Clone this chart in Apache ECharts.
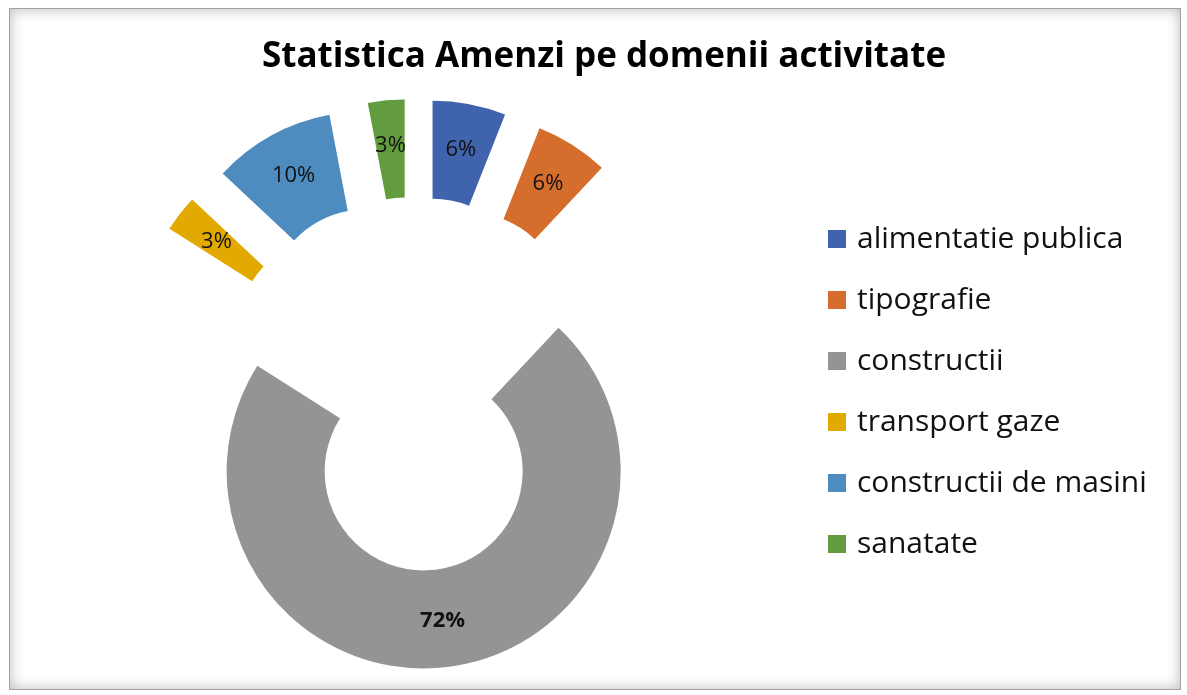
<!DOCTYPE html>
<html>
<head>
<meta charset="utf-8">
<script src="https://cdn.jsdelivr.net/npm/echarts@6/dist/echarts.min.js"></script>
<style>
  body { margin: 0; background: #fff; }
  #frame {
    position: absolute; left: 9px; top: 8px; width: 1170px; height: 680px;
    border: 1px solid #a3a3a3;
    box-shadow: inset 0 0 14px rgba(0,0,0,0.28);
    background: #fff;
  }
  #chart { position: absolute; left: 0; top: 0; width: 1187px; height: 695px; }
</style>
</head>
<body>
<div id="frame"></div>
<div id="chart"></div>
<script>
var names = ['alimentatie publica', 'tipografie', 'constructii', 'transport gaze', 'constructii de masini', 'sanatate'];
var values = [6, 6, 72, 3, 10, 3];
var colors = ['#3f63ac', '#d56e2c', '#949494', '#e2aa00', '#4e8bbf', '#639c3f'];

// the big slice is pushed out less than the small ones, so it gets its own series
var bigIndex = 2;

var myChart = echarts.init(document.getElementById('chart'));

function sliceData(showBig) {
  return names.map(function (name, i) {
    var visible = (i === bigIndex) === showBig;
    return {
      name: name,
      value: values[i],
      selected: true,
      itemStyle: { color: visible ? colors[i] : 'rgba(0,0,0,0)' },
      label: { show: visible, fontWeight: showBig ? 'bold' : 'normal' }
    };
  });
}

var pieBase = {
  type: 'pie',
  center: [414, 395],
  radius: [99, 197],
  startAngle: 90,
  clockwise: true,
  selectedMode: 'multiple',
  label: {
    position: 'inside',
    formatter: '{c}%',
    color: '#111',
    fontFamily: 'Open Sans',
    fontSize: 22
  },
  labelLine: { show: false },
  select: { itemStyle: { borderWidth: 0 } },
  emphasis: { scale: false }
};

myChart.setOption(option = {
  animation: false,
  title: {
    text: 'Statistica Amenzi pe domenii activitate',
    left: 257,
    top: 35,
    textStyle: {
      fontFamily: 'Open Sans',
      fontWeight: 'bold',
      fontSize: 35,
      color: '#000'
    }
  },
  legend: {
    orient: 'vertical',
    left: 823,
    top: 219,
    icon: 'rect',
    itemWidth: 18,
    itemHeight: 18,
    itemGap: 31,
    textStyle: {
      fontFamily: 'Open Sans',
      fontSize: 30,
      lineHeight: 28,
      color: '#111',
      padding: [0, 0, 0, 6]
    },
    data: names.map(function (name, i) {
      return { name: name, itemStyle: { color: colors[i] } };
    })
  },
  series: [
    Object.assign({}, pieBase, { selectedOffset: 99, data: sliceData(false) }),
    Object.assign({}, pieBase, { selectedOffset: 77, data: sliceData(true) })
  ]
});
</script>
</body>
</html>
